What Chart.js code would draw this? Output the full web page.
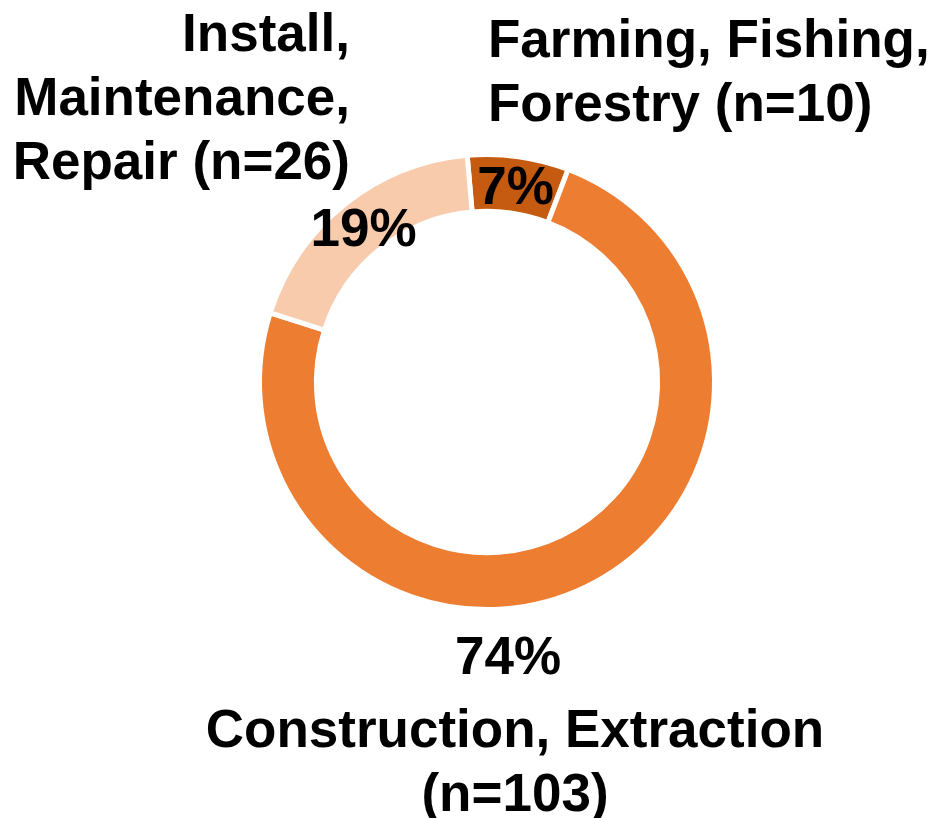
<!DOCTYPE html>
<html>
<head>
<meta charset="utf-8">
<script src="https://cdn.jsdelivr.net/npm/chart.js@4"></script>
<style>
  html, body { margin: 0; padding: 0; background: #ffffff; }
  #chart { display: block; }
</style>
</head>
<body>
<canvas id="chart" width="931" height="818"></canvas>
<script>
// Occupation groups, clockwise from just left of the top
const categories = ['Farming, Fishing, Forestry', 'Construction, Extraction', 'Install, Maintenance, Repair'];
const counts = [10, 103, 26];
const percentLabels = ['7%', '74%', '19%'];
const nameLines = [
    ['Farming, Fishing,', 'Forestry (n=10)'],
    ['Construction, Extraction', '(n=103)'],
    ['Install,', 'Maintenance,', 'Repair (n=26)']
];
const sliceColors = ['#C55A11', '#ED7D31', '#F8CBAD'];

const FONT_SIZE = 53;
const FONT = `bold ${FONT_SIZE}px "Liberation Sans", Arial, sans-serif`;
const CAP = FONT_SIZE * 0.716;

// Draws percentages and category names around the ring
const labelPlugin = {
    id: 'ringLabels',
    afterDraw(chart) {
        const ctx = chart.ctx;
        const arcs = chart.getDatasetMeta(0).data;
        const cx = arcs[0].x;
        const cy = arcs[0].y;
        const top = cy - arcs[0].outerRadius;
        const bottom = cy + arcs[0].outerRadius;

        ctx.save();
        ctx.font = FONT;
        ctx.fillStyle = '#000000';
        ctx.textBaseline = 'alphabetic';

        // percentages inside the small slices, at the ring's mid radius
        [0, 2].forEach(i => {
            const a = arcs[i];
            const mid = (a.startAngle + a.endAngle) / 2;
            const r = (a.innerRadius + a.outerRadius) / 2;
            ctx.textAlign = 'center';
            ctx.fillText(percentLabels[i], cx + Math.cos(mid) * r + 1, cy + Math.sin(mid) * r + CAP / 2);
        });

        // farming block: left aligned at the centre line, above the ring
        ctx.textAlign = 'left';
        nameLines[0].forEach((line, k) => {
            ctx.fillText(line, cx + 1, top - 98 + k * 64);
        });

        // install block: right aligned, upper left
        ctx.textAlign = 'right';
        nameLines[2].forEach((line, k) => {
            ctx.fillText(line, cx - 137, top - 104 + k * 64);
        });

        // construction block below the ring
        ctx.textAlign = 'center';
        ctx.fillText(percentLabels[1], cx + 21, bottom + 64);
        nameLines[1].forEach((line, k) => {
            ctx.fillText(line, cx + 28, bottom + 137 + k * 64);
        });

        ctx.restore();
    }
};

new Chart(document.getElementById('chart'), {
    type: 'doughnut',
    data: {
        labels: categories,
        datasets: [{
            data: counts,
            backgroundColor: sliceColors,
            borderColor: '#ffffff',
            borderWidth: 5,
            hoverOffset: 0
        }]
    },
    options: {
        responsive: false,
        animation: false,
        rotation: -5,
        cutout: '75%',
        layout: {
            padding: { left: 257, right: 214, top: 152, bottom: 206 }
        },
        plugins: {
            legend: { display: false },
            tooltip: { enabled: false }
        }
    },
    plugins: [labelPlugin]
});
</script>
</body>
</html>
